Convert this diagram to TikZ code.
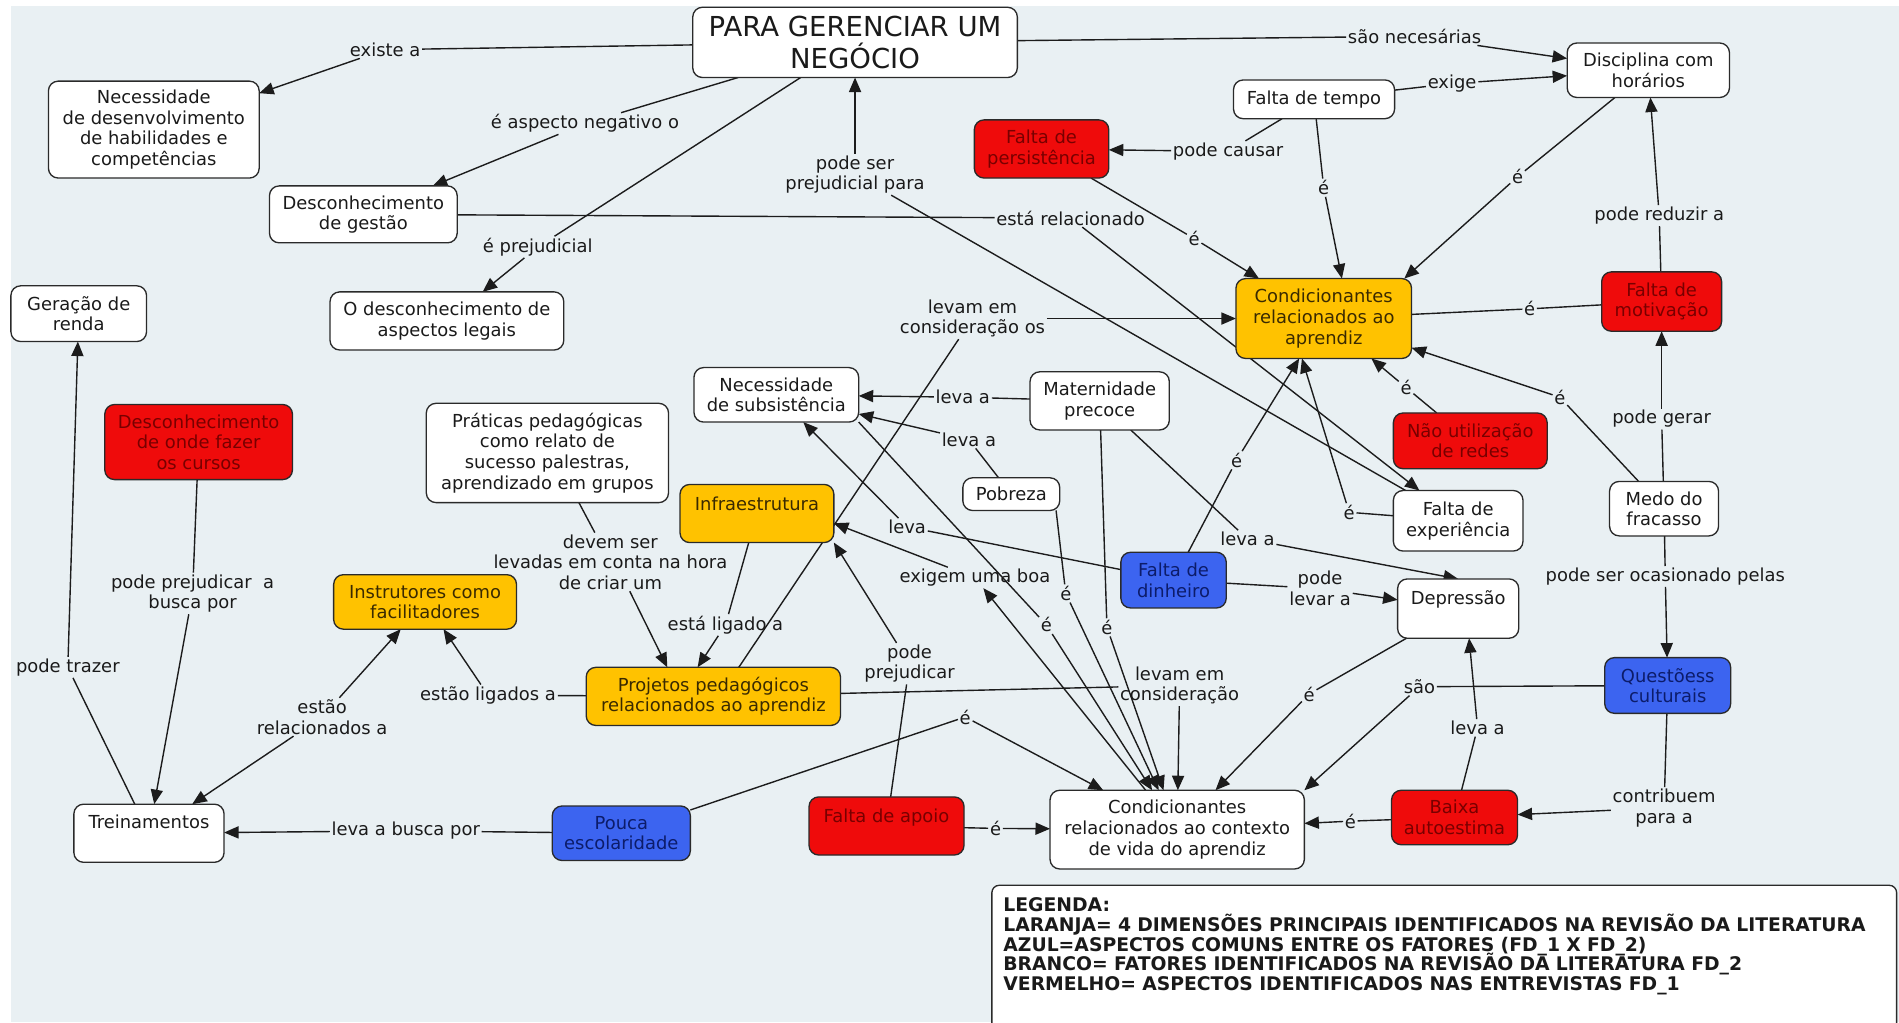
\documentclass[tikz,border=0pt]{standalone}
\usepackage{fontspec}
\setmainfont{DejaVu Sans}
\usetikzlibrary{arrows.meta}
\pgfdeclarelayer{links}
\pgfsetlayers{links,main}

\definecolor{mapbg}{HTML}{E9F0F3}
\definecolor{boxline}{HTML}{2A2A2A}
\definecolor{linkline}{HTML}{1C1C1C}
\definecolor{inktext}{HTML}{1A1A1A}
\definecolor{orangefill}{HTML}{FFC200}
\definecolor{orangetext}{HTML}{3A2A00}
\definecolor{redfill}{HTML}{EF0B0B}
\definecolor{redtext}{HTML}{780000}
\definecolor{bluefill}{HTML}{3C64F0}
\definecolor{bluetext}{HTML}{0C1C6A}

\newcommand\cmapfont{\fontsize{14.8}{17}\selectfont\lineskiplimit=-20pt\relax}
\newcommand\cmaptitle{\fontsize{22.7}{26}\selectfont\lineskiplimit=-20pt\relax}
\newcommand\cmaplegend{\bfseries\fontsize{15.5}{16.4}\selectfont\lineskiplimit=-20pt\relax}

\begin{document}
\begin{tikzpicture}[x=1pt,y=-1pt,
  concept/.style={draw=boxline, line width=1.1pt, rounded corners=8pt, fill=white,
    text=inktext, align=center, font=\cmapfont, inner sep=2pt, outer sep=0pt},
  orangeconcept/.style={concept, fill=orangefill, text=orangetext},
  redconcept/.style={concept, fill=redfill, text=redtext},
  blueconcept/.style={concept, fill=bluefill, text=bluetext},
  toptext/.style n args={3}{anchor=north, inner ysep=#1, text height=11pt,
    text depth=#2, minimum width=#3},
  linkword/.style={font=\cmapfont, text=inktext, align=center, inner sep=1.5pt, outer sep=0pt},
  maplink/.style={draw=linkline, line width=1.15pt},
  maparrow/.style={maplink, -{Triangle[length=12pt,width=10pt]}},
]
\useasboundingbox (0,0) rectangle (1568,844);

% canvas
\begin{pgfonlayer}{links}
  \fill[white] (0,0) rectangle (1568,844);
  \fill[mapbg] (9,5) rectangle (1568,844);
\end{pgfonlayer}

% ---------- concepts ----------
\node[concept, font=\cmaptitle, minimum width=268, minimum height=58] (para) at (706,35) {PARA GERENCIAR UM\\NEGÓCIO};
\node[concept, minimum width=174, minimum height=80] (ndh) at (127,107) {Necessidade\\de desenvolvimento\\de habilidades e\\competências};
\node[concept, minimum width=134, minimum height=45] (disc) at (1361,58) {Disciplina com\\horários};
\node[concept, minimum width=133, minimum height=32] (ft) at (1085,82) {Falta de tempo};
\node[redconcept, minimum width=111, minimum height=48] (fp) at (860,123) {Falta de\\persistência};
\node[concept, minimum width=155, minimum height=47] (dg) at (300,177) {Desconhecimento\\de gestão};
\node[concept, minimum width=193, minimum height=48] (odal) at (369,265) {O desconhecimento de\\aspectos legais};
\node[concept, minimum width=112, minimum height=46] (gr) at (65,259) {Geração de\\renda};
\node[orangeconcept, minimum width=145, minimum height=66] (ca) at (1093,263) {Condicionantes\\relacionados ao\\aprendiz};
\node[redconcept, minimum width=99, minimum height=49] (fm) at (1372,249) {Falta de\\motivação};
\node[concept, minimum width=136, minimum height=45] (ns) at (641,326) {Necessidade\\de subsistência};
\node[concept, minimum width=115, minimum height=48] (mat) at (908,331) {Maternidade\\precoce};
\node[concept, minimum width=200, minimum height=82] (prat) at (452,374) {Práticas pedagógicas\\como relato de\\sucesso palestras,\\aprendizado em grupos};
\node[redconcept, minimum width=155, minimum height=62] (dofc) at (164,365) {Desconhecimento\\de onde fazer\\os cursos};
\node[redconcept, minimum width=127, minimum height=46] (nur) at (1214,364) {Não utilização\\de redes};
\node[orangeconcept, toptext={10.4pt}{16.2pt}{127pt}] (infra) at (625,400) {Infraestrutura};
\node[concept, minimum width=80, minimum height=27] (pob) at (835,408) {Pobreza};
\node[concept, minimum width=107, minimum height=50] (fe) at (1204,430) {Falta de\\experiência};
\node[concept, minimum width=90, minimum height=45] (mf) at (1374,420) {Medo do\\fracasso};
\node[blueconcept, minimum width=87, minimum height=46] (fd) at (969,479) {Falta de\\dinheiro};
\node[concept, toptext={10.4pt}{17.2pt}{100pt}] (dep) at (1204,478) {Depressão};
\node[orangeconcept, minimum width=151, minimum height=45] (instr) at (351,497) {Instrutores como\\facilitadores};
\node[orangeconcept, minimum width=210, minimum height=48] (pp) at (589,575) {Projetos pedagógicos\\relacionados ao aprendiz};
\node[blueconcept, minimum width=104, minimum height=46] (qc) at (1377,566) {Questõess\\culturais};
\node[concept, toptext={9.4pt}{18.2pt}{124pt}] (trein) at (123,664) {Treinamentos};
\node[blueconcept, minimum width=114, minimum height=45] (pe) at (513,688) {Pouca\\escolaridade};
\node[redconcept, toptext={10.4pt}{16.2pt}{128pt}] (fa) at (732,658) {Falta de apoio};
\node[concept, minimum width=210, minimum height=65] (cc) at (972,685) {Condicionantes\\relacionados ao contexto\\de vida do aprendiz};
\node[redconcept, minimum width=104, minimum height=45] (ba) at (1201,675) {Baixa\\autoestima};

% legend
\node[concept, anchor=north west, align=left, text width=728pt, inner xsep=9.5pt, inner ysep=10pt,
  rounded corners=6pt, font=\cmaplegend] (legend) at (819,731)
  {LEGENDA:\\LARANJA= 4 DIMENSÕES PRINCIPAIS IDENTIFICADOS NA REVISÃO DA LITERATURA\\AZUL=ASPECTOS COMUNS ENTRE OS FATORES (FD\_1 X FD\_2)\\BRANCO= FATORES IDENTIFICADOS NA REVISÃO DA LITERATURA FD\_2\\VERMELHO= ASPECTOS IDENTIFICADOS NAS ENTREVISTAS FD\_1\\[12pt]\mbox{}};

% ---------- linking words ----------
\node[linkword] (l1) at (318,41) {existe a};
\node[linkword] (l2) at (483,102) {é aspecto negativo o};
\node[linkword] (l3) at (444,204) {é prejudicial};
\node[linkword] (l4) at (1168,30) {são necesárias};
\node[linkword] (l5) at (1199,69) {exige};
\node[linkword] (l6) at (1014,125) {pode causar};
\node[linkword] (l7) at (1093,155) {é};
\node[linkword] (l8) at (986,197) {é};
\node[linkword] (l9) at (1253,146) {é};
\node[linkword] (l10) at (1370,178) {pode reduzir a};
\node[linkword] (l11) at (1263,255) {é};
\node[linkword] (l12) at (1372,346) {pode gerar};
\node[linkword] (l13) at (1288,328) {é};
\node[linkword] (l14) at (1375,476) {pode ser ocasionado pelas};
\node[linkword] (l15) at (1161,320) {é};
\node[linkword] (l16) at (1114,423) {é};
\node[linkword] (l17) at (884,180) {está relacionado};
\node[linkword] (l18) at (706,144) {pode ser\\prejudicial para};
\node[linkword] (l19) at (803,263) {levam em\\consideração os};
\node[linkword] (l20) at (795,328) {leva a};
\node[linkword] (l21) at (800,363) {leva a};
\node[linkword] (l22) at (749,435) {leva};
\node[linkword] (l23) at (805,477) {exigem uma boa};
\node[linkword] (l24) at (1021,380) {é};
\node[linkword] (l25) at (1030,445) {leva a};
\node[linkword] (l26) at (1090,486) {pode\\levar a};
\node[linkword] (l27) at (504,464) {devem ser\\levadas em conta na hora\\de criar um};
\node[linkword] (l28) at (599,516) {está ligado a};
\node[linkword] (l29) at (751,548) {pode\\prejudicar};
\node[linkword] (l30) at (403,574) {estão ligados a};
\node[linkword] (l31) at (266,592) {estão\\relacionados a};
\node[linkword] (l32) at (159,490) {pode prejudicar~ a\\busca por};
\node[linkword] (l33) at (56,551) {pode trazer};
\node[linkword] (l34) at (335,686) {leva a busca por};
\node[linkword] (l35) at (797,592) {é};
\node[linkword] (l36) at (880,490) {é};
\node[linkword] (l37) at (864,516) {é};
\node[linkword] (l38) at (914,518) {é};
\node[linkword] (l39) at (974,566) {levam em\\consideração};
\node[linkword] (l40) at (1081,573) {é};
\node[linkword] (l41) at (1172,567) {são};
\node[linkword] (l42) at (822,684) {é};
\node[linkword] (l43) at (1115,678) {é};
\node[linkword] (l44) at (1220,601) {leva a};
\node[linkword] (l45) at (1374,667) {contribuem\\para a};

% ---------- connectors ----------
\begin{pgfonlayer}{links}
\draw[maplink] (para) -- (l1);   \draw[maparrow] (l1) -- (ndh);
\draw[maplink] (para) -- (l2);   \draw[maparrow] (l2) -- (dg);
\draw[maplink] (para) -- (l3);   \draw[maparrow] (l3) -- (odal);
\draw[maplink] (para) -- (l4);   \draw[maparrow] (l4) -- (disc);
\draw[maplink] (ft) -- (l5);     \draw[maparrow] (l5) -- (disc);
\draw[maplink] (ft) -- (l6);     \draw[maparrow] (l6) -- (fp);
\draw[maplink] (ft) -- (l7);     \draw[maparrow] (l7) -- ([xshift=15pt]ca.north);
\draw[maplink] (fp) -- (l8);     \draw[maparrow] (l8) -- (ca);
\draw[maplink] (disc) -- (l9);   \draw[maparrow] (l9) -- ([xshift=-6pt]ca.north east);
\draw[maplink] (fm) -- (l10);    \draw[maparrow] (l10) -- (disc);
\draw[maplink] (fm) -- (l11);    \draw[maplink] (l11) -- (ca);
\draw[maplink] (mf) -- (l12);    \draw[maparrow] (l12) -- (fm);
\draw[maplink] (mf) -- (l13);    \draw[maparrow] (l13) -- (ca);
\draw[maplink] (mf) -- (l14);    \draw[maparrow] (l14) -- (qc);
\draw[maplink] (nur) -- (l15);   \draw[maparrow] (l15) -- (ca);
\draw[maplink] (fe) -- (l16);    \draw[maparrow] (l16) -- ([xshift=-18pt]ca.south);
\draw[maplink] (dg) -- (l17);    \draw[maparrow] (l17) -- (fe);
\draw[maplink] (fe) -- (l18);    \draw[maparrow] (l18) -- (para);
\draw[maplink] ([xshift=21pt]pp.north) -- (l19); \draw[maparrow] (l19) -- (ca);
\draw[maplink] (mat) -- (l20);   \draw[maparrow] (l20) -- (ns);
\draw[maplink] (pob) -- (l21);   \draw[maparrow] (l21) -- (ns);
\draw[maplink] (fd) -- (l22);    \draw[maparrow] (l22) -- (ns);
\draw[maparrow] (cc) -- (l23);   \draw[maparrow] (l23) -- ([yshift=-8pt]infra.east);
\draw[maplink] (fd) -- (l24);    \draw[maparrow] (l24) -- (ca);
\draw[maplink] (mat) -- (l25);   \draw[maparrow] (l25) -- (dep.north);
\draw[maplink] (fd) -- (l26);    \draw[maparrow] (l26) -- (dep);
\draw[maplink] ([xshift=26pt]prat.south) -- (l27);
\draw[maparrow] ([xshift=16pt]l27.south) -- ([xshift=-38pt]pp.north);
\draw[maplink] (infra) -- (l28); \draw[maparrow] (l28) -- ([xshift=-13pt]pp.north);
\draw[maplink] (fa) -- (l29);    \draw[maparrow] (l29) -- (infra.south east);
\draw[maplink] (pp) -- (l30);    \draw[maparrow] (l30) -- (instr);
\draw[maparrow] (l31) -- (instr); \draw[maparrow] (l31) -- (trein);
\draw[maplink] (dofc) -- (l32);  \draw[maparrow] (l32) -- (trein);
\draw[maplink] (trein) -- (l33); \draw[maparrow] (l33) -- (gr);
\draw[maplink] (pe) -- (l34);    \draw[maparrow] (l34) -- (trein);
\draw[maplink] (pe) -- (l35);    \draw[maparrow] (l35) -- (cc);
\draw[maplink] ([xshift=37pt]pob.south) -- (l36); \draw[maparrow] (l36) -- (cc);
\draw[maplink] (ns.south east) -- (l37); \draw[maparrow] (l37) -- (cc);
\draw[maplink] (mat) -- (l38);   \draw[maparrow] (l38) -- (cc);
\draw[maplink] (pp) -- (l39);    \draw[maparrow] (l39) -- (cc);
\draw[maplink] (dep) -- (l40);   \draw[maparrow] (l40) -- (cc);
\draw[maplink] (qc) -- (l41);    \draw[maparrow] (l41) -- (cc.north east);
\draw[maplink] (fa) -- (l42);    \draw[maparrow] (l42) -- (cc);
\draw[maplink] (ba) -- (l43);    \draw[maparrow] (l43) -- (cc);
\draw[maplink] (ba) -- (l44);    \draw[maparrow] (l44) -- ([xshift=9pt]dep.south);
\draw[maplink] (qc) -- (l45);    \draw[maparrow] (l45) -- (ba);
\end{pgfonlayer}
\end{tikzpicture}
\end{document}
